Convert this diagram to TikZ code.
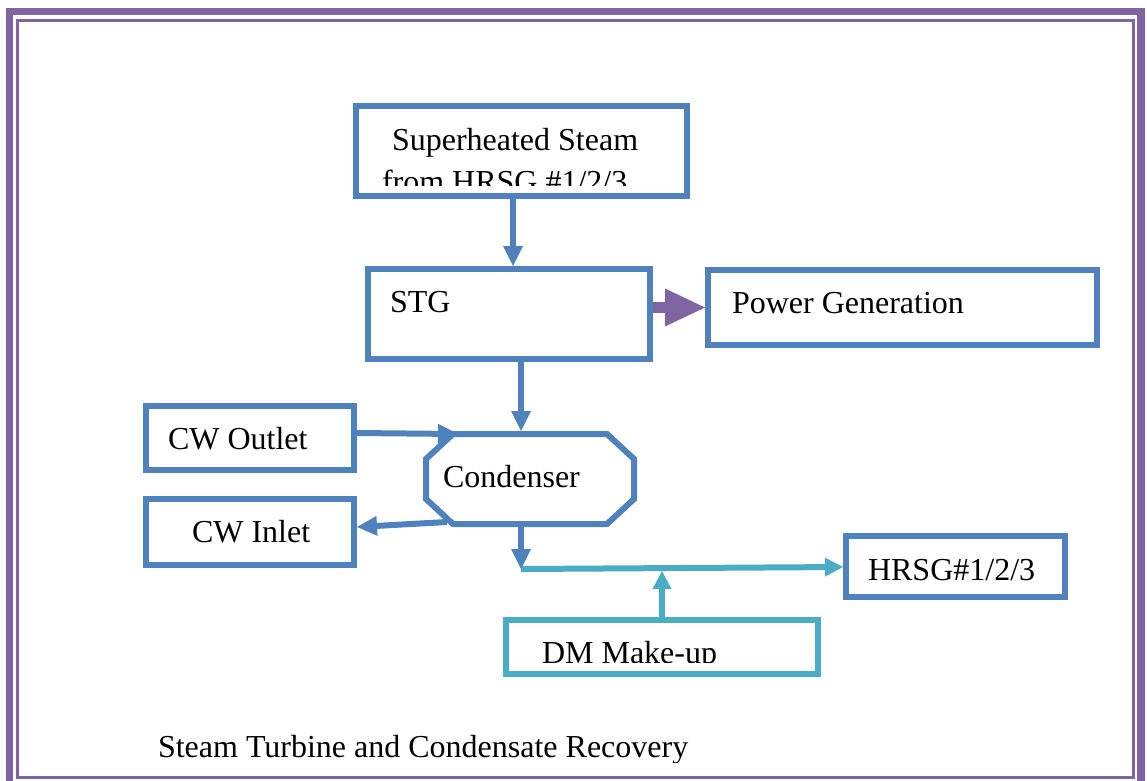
\documentclass[tikz,border=0pt]{standalone}
\usepackage{fontspec}
\setmainfont{Liberation Serif}
\usetikzlibrary{arrows.meta}
\definecolor{boxblue}{HTML}{4F81BD}
\definecolor{boxcyan}{HTML}{4BACC6}
\definecolor{framepurple}{HTML}{8064A2}
\begin{document}
\begin{tikzpicture}[x=1pt,y=-1pt,
  box/.style={draw=boxblue, line width=6pt, rectangle, inner sep=0pt, outer sep=3pt},
  cbox/.style={box, draw=boxcyan},
  txt/.style={anchor=base west, inner sep=0pt, outer sep=0pt, font=\fontsize{32}{38}\selectfont},
  arr/.style={draw=boxblue, line width=6pt, -{Triangle[length=20pt,width=20pt,line width=0pt]}},
  carr/.style={draw=boxcyan, line width=6pt, -{Triangle[length=18pt,width=19pt,line width=0pt]}},
  parr/.style={draw=framepurple, line width=11pt, -{Triangle[length=40pt,width=38pt,line width=0pt]}},
]
\useasboundingbox (0,0) rectangle (1147,780);
\fill[white] (0,0) rectangle (1147,780);
% frame
\draw[framepurple, line width=7.5pt] (9.5,11.5) rectangle (1141,790);
\draw[framepurple, line width=3pt] (17.5,20.5) rectangle (1133,777.5);

% boxes
\node[box, minimum width=331pt, minimum height=90pt] (sup) at (521.5,151) {};
\node[box, minimum width=282pt, minimum height=90pt] (stg) at (509,314) {};
\node[box, minimum width=389pt, minimum height=75pt] (pow) at (902.5,307.5) {};
\node[box, minimum width=208pt, minimum height=64pt] (cwo) at (250,438) {};
\node[box, minimum width=208pt, minimum height=66pt] (cwi) at (250,532) {};
\node[box, minimum width=219pt, minimum height=61pt] (hrsg) at (955.5,566.5) {};
\node[cbox, minimum width=312pt, minimum height=54pt] (dm) at (662,647) {};
\node[inner sep=0pt, outer sep=0pt, minimum width=208pt, minimum height=90pt] (cond) at (530,479) {};
\draw[boxblue, line width=6pt, line join=miter]
  ([xshift=27pt]cond.north west) -- ([xshift=-27pt]cond.north east)
  -- ([yshift=-25pt]cond.north east) -- ([yshift=25pt]cond.south east)
  -- ([xshift=-27pt]cond.south east) -- ([xshift=27pt]cond.south west)
  -- ([yshift=25pt]cond.south west) -- ([yshift=-25pt]cond.north west) -- cycle;

% texts
\node[txt] (t1) at (392,150) {Superheated Steam};
\begin{scope}
  \clip (356,106) rectangle (687,185);
  \node[txt] (t2) at (382,192) {from HRSG \#1/2/3};
\end{scope}
\node[txt] (t3) at (390,312) {STG};
\node[txt] (t4) at (732,313) {Power Generation};
\node[txt] (t5) at (168,449) {CW Outlet};
\node[txt] (t6) at (192,542) {CW Inlet};
\node[txt] (t7) at (443,487) {Condenser};
\node[txt] (t8) at (868,580) {HRSG\#1/2/3};
\begin{scope}
  \clip (506,620) rectangle (818,662);
  \node[txt] (t9) at (542,663) {DM Make-up};
\end{scope}
\begin{scope}
  \clip (20,700) rectangle (1130,762);
  \node[txt] (cap) at (158,757) {Steam Turbine and Condensate Recovery};
\end{scope}

% connectors
\coordinate (x1) at (513,0);
\coordinate (x2) at (521,0);
\coordinate (j) at (521,569);
\coordinate (m) at (662,568);
\draw[arr] (sup.south -| x1) -- (stg.north -| x1);
\draw[parr] (stg.east |- pow.west) -- (pow.west);
\draw[arr, shorten >=3pt] (stg.south -| x2) -- (cond.north -| x2);
\draw[arr] ([yshift=5pt]cwo.east) -- ([xshift=32pt]cond.north west);
\draw[arr] ([xshift=21pt,yshift=2pt]cond.south west) -- ([yshift=5pt]cwi.east);
\draw[carr] (j) -- ([yshift=-0.5pt]hrsg.west);
\draw[carr] (dm.north -| m) -- ([yshift=-3pt]m);
\draw[arr] (cond.south -| j) -- (j);
\end{tikzpicture}
\end{document}
